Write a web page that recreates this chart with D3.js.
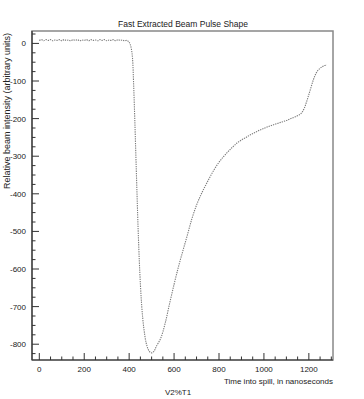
<!DOCTYPE html>
<html>
<head>
<script src="https://cdn.jsdelivr.net/npm/d3@7"></script>
<style>
body { margin: 0; background: #fff; }
text { font-family: "Liberation Sans", Arial, sans-serif; fill: #222; }
.tick text { font-size: 8px; }
</style>
</head>
<body>
<div id="chart"></div>
<script>
// time into spill (ns) and relative beam intensity
var times = [0, 10, 20, 30, 40, 50, 60, 70, 80, 90, 100, 110, 120, 130, 140, 150, 160, 170, 180, 190,
             200, 210, 220, 230, 240, 250, 260, 270, 280, 290, 300, 310, 320, 330, 340, 350, 360, 370, 380, 390,
             395, 400, 405, 410, 415, 420, 425, 430, 435, 440, 445, 450, 455, 460, 465, 470, 475, 480, 485, 490,
             495, 500, 505, 510, 515, 520, 540, 560, 580, 600, 620, 640, 660, 680, 700, 720, 740, 760, 780, 800,
             820, 840, 860, 880, 900, 920, 940, 960, 980, 1000, 1020, 1040, 1060, 1080, 1100, 1120, 1140, 1160, 1170, 1180,
             1190, 1200, 1210, 1220, 1230, 1240, 1250, 1260, 1270, 1280];
var intensity = [8, 10, 7, 10, 8, 10, 7, 9, 8, 10, 7, 10, 8, 9, 7, 10, 8, 10, 7, 9,
                 8, 10, 7, 10, 8, 9, 7, 10, 8, 10, 7, 9, 8, 10, 7, 10, 8, 9, 7, 8,
                 6, 3, -3, -15, -40, -110, -200, -300, -400, -495, -575, -640, -690, -728, -756, -778, -795, -806, -814, -819,
                 -822, -823, -822, -819, -814, -807, -785, -745, -692, -641, -593, -550, -508, -465, -430, -402, -378, -355, -334, -316,
                 -301, -288, -276, -265, -257, -250, -243, -237, -231, -226, -221, -217, -213, -209, -205, -200, -195, -189, -183, -172,
                 -155, -136, -116, -97, -82, -72, -66, -62, -59, -57];
var xTicks = [0, 200, 400, 600, 800, 1000, 1200];
var yTicks = [0, -100, -200, -300, -400, -500, -600, -700, -800];

var W = 364, H = 399;
var mLeft = 32, mRight = 333, mTop = 31, mBottom = 360;

var svg = d3.select("#chart").append("svg")
    .attr("width", W).attr("height", H);

var xScale = d3.scaleLinear().domain([-32.5, 1307.5]).range([mLeft, mRight]);
var yScale = d3.scaleLinear().domain([-842, 33]).range([mBottom, mTop]);

// frame
svg.append("rect")
   .attr("x", mLeft).attr("y", mTop)
   .attr("width", mRight - mLeft).attr("height", mBottom - mTop)
   .attr("fill", "none").attr("stroke", "#888").attr("stroke-width", 1.5);

// x axis, ticks pointing inside
var xMinor = d3.range(0, 1301, 50);
svg.append("g").selectAll("line").data(xMinor).enter().append("line")
   .attr("x1", function(d) { return xScale(d); })
   .attr("x2", function(d) { return xScale(d); })
   .attr("y1", mBottom)
   .attr("y2", function(d) { return d % 200 == 0 ? mBottom - 7 : mBottom - 3.5; })
   .attr("stroke", "#333");
svg.append("g").attr("class", "tick").selectAll("text").data(xTicks).enter().append("text")
   .attr("x", function(d) { return xScale(d); })
   .attr("y", 372)
   .attr("text-anchor", "middle")
   .text(function(d) { return d; });

// y axis, ticks pointing inside
var yMinor = d3.range(-825, 26, 25);
svg.append("g").selectAll("line").data(yMinor).enter().append("line")
   .attr("y1", function(d) { return yScale(d); })
   .attr("y2", function(d) { return yScale(d); })
   .attr("x1", mLeft)
   .attr("x2", function(d) { return d % 100 == 0 ? mLeft + 7 : mLeft + 3.5; })
   .attr("stroke", "#333");
svg.append("g").attr("class", "tick").selectAll("text").data(yTicks).enter().append("text")
   .attr("x", 26)
   .attr("y", function(d) { return yScale(d) + 3; })
   .attr("text-anchor", "end")
   .text(function(d) { return d; });

svg.append("line").attr("x1", mLeft).attr("x2", mLeft).attr("y1", mTop).attr("y2", mBottom)
   .attr("stroke", "#333").attr("stroke-width", 1.2);
svg.append("line").attr("x1", mLeft).attr("x2", mRight).attr("y1", mBottom).attr("y2", mBottom)
   .attr("stroke", "#333").attr("stroke-width", 1.2);

// pulse shape
var pts = times.map(function(t, i) { return [t, intensity[i]]; });
var line = d3.line()
    .x(function(d) { return xScale(d[0]); })
    .y(function(d) { return yScale(d[1]); })
    .curve(d3.curveCatmullRom.alpha(0.5));
svg.append("path")
   .datum(pts)
   .attr("d", line)
   .attr("fill", "none")
   .attr("stroke", "#7a7a7a")
   .attr("stroke-width", 1.1)
   .attr("stroke-dasharray", "1.3,1");

// titles
svg.append("text")
   .attr("x", 183).attr("y", 27)
   .attr("text-anchor", "middle")
   .style("font-size", "8.5px")
   .text("Fast Extracted Beam Pulse Shape");
svg.append("text")
   .attr("text-anchor", "end")
   .attr("transform", "translate(10," + (mTop + 2) + ")rotate(-90)")
   .style("font-size", "9px")
   .text("Relative beam intensity (arbitrary units)");
svg.append("text")
   .attr("x", mRight).attr("y", 384)
   .attr("text-anchor", "end")
   .style("font-size", "8px")
   .text("Time into spill, in nanoseconds");
svg.append("text")
   .attr("x", 178).attr("y", 395)
   .attr("text-anchor", "middle")
   .style("font-size", "8px")
   .text("V2%T1");
</script>
</body>
</html>
